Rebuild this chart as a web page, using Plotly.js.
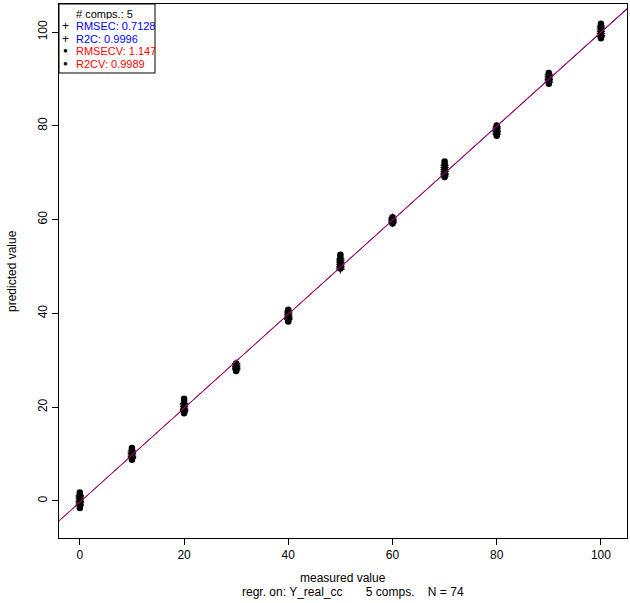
<!DOCTYPE html>
<html>
<head>
<meta charset="utf-8">
<script src="https://cdn.plot.ly/plotly-3.0.1.min.js"></script>
<style>html,body{margin:0;padding:0;background:#fff;}#chart{width:630px;height:603px;}</style>
</head>
<body>
<div id="chart"></div>
<script>
// measured values (74 samples)
const measured = [
  0,0,0,0,0,0,0,0,
  10,10,10,10,10,10,10,
  20,20,20,20,20,20,20,
  30,30,30,30,30,30,
  40,40,40,40,40,40,40,
  50,50,50,50,50,50,50,
  60,60,60,60,60,60,
  70,70,70,70,70,70,70,
  80,80,80,80,80,80,
  90,90,90,90,90,90,
  100,100,100,100,100,100,100
];
// calibration predictions (+)
const predCal = [
  1.2,0.9,0.6,0.2,-0.1,-0.4,-0.7,-1.0,
  10.7,10.4,10.1,9.8,9.5,9.3,9.1,
  20.8,20.5,20.2,19.8,19.5,19.3,19.1,
  29.3,29.0,28.7,28.4,28.2,28.0,
  40.5,40.1,39.7,39.4,39.1,38.9,38.7,
  51.6,51.2,50.8,50.4,50.0,49.7,49.4,
  60.4,60.1,59.9,59.7,59.5,59.3,
  71.6,71.1,70.7,70.3,69.9,69.6,69.3,
  79.8,79.5,79.1,78.8,78.5,78.2,
  91.0,90.6,90.2,89.9,89.6,89.3,
  101.3,100.9,100.5,100.1,99.7,99.3,99.0
];
// cross-validation predictions (dots)
const predCV = [
  1.8,1.3,0.8,0.3,-0.2,-0.6,-1.0,-1.5,
  11.3,10.9,10.3,9.8,9.4,9.1,8.8,
  21.8,21.3,20.1,19.5,19.1,18.9,18.7,
  29.3,28.9,28.5,28.2,27.9,27.7,
  40.8,40.3,39.8,39.3,38.9,38.6,38.3,
  52.5,52.0,51.4,50.9,50.4,50.0,49.6,
  60.5,60.2,59.9,59.6,59.4,59.2,
  72.4,71.8,71.2,70.6,70.0,69.5,69.1,
  80.1,79.7,79.2,78.7,78.3,77.9,
  91.3,90.8,90.3,89.8,89.4,89.0,
  101.8,101.3,100.8,100.2,99.6,99.1,98.7
];
const xTicks = [0,20,40,60,80,100];
const yTicks = [0,20,40,60,80,100];
const legendSymbols = ['', '+', '+', '\u25CF', '\u25CF'];
const legendTexts = ['# comps.: 5','RMSEC: 0.7128','R2C: 0.9996','RMSECV: 1.147','R2CV: 0.9989'];
const legendColors = ['black','blue','blue','red','red'];
const xTitle = 'measured value';
const subTitle = 'regr. on: Y_real_cc\u00A0\u00A0\u00A0\u00A0\u00A0\u00A0\u00A05 comps.\u00A0\u00A0\u00A0\u00A0N = 74';
const yTitle = 'predicted value';

function fit(x, y) {
  const n = x.length;
  let mx = 0, my = 0;
  for (let i = 0; i < n; i++) { mx += x[i]; my += y[i]; }
  mx /= n; my /= n;
  let sxy = 0, sxx = 0;
  for (let i = 0; i < n; i++) { sxy += (x[i]-mx)*(y[i]-my); sxx += (x[i]-mx)*(x[i]-mx); }
  const b = sxy / sxx;
  return {a: my - b*mx, b: b};
}
const fCal = fit(measured, predCal);
const fCV = fit(measured, predCV);
const lx = [-20, 130];

const font = 'Liberation Sans, Arial, Helvetica, sans-serif';

const traces = [
  {x: measured, y: predCal, type: 'scatter', mode: 'markers',
   marker: {symbol: 'cross-thin', size: 6, line: {width: 1, color: 'black'}, color: 'black'}},
  {x: measured, y: predCV, type: 'scatter', mode: 'markers',
   marker: {symbol: 'circle', size: 6.5, color: 'black'}},
  {x: lx, y: lx.map(v => fCal.a + fCal.b*v), type: 'scatter', mode: 'lines',
   line: {color: 'blue', width: 1}},
  {x: lx, y: lx.map(v => fCV.a + fCV.b*v), type: 'scatter', mode: 'lines',
   line: {color: 'rgb(220,0,40)', width: 1}}
];

const W = 630, H = 603, L = 59, R = 3, T = 4, B = 65;
const pw = W - L - R, ph = H - T - B;
const px = v => (v - L) / pw;
const py = v => 1 - (v - T) / ph;

const rowY = [13, 26, 38.5, 51, 63.5];
const annotations = [];
legendTexts.forEach((t, i) => {
  if (legendSymbols[i]) {
    annotations.push({xref: 'paper', yref: 'paper', x: px(65), y: py(rowY[i]),
      xanchor: 'center', yanchor: 'middle', text: legendSymbols[i], showarrow: false,
      height: 11, borderpad: 0,
      font: {family: font, size: legendSymbols[i] === '+' ? 12 : 8, color: 'black'}});
  }
  annotations.push({xref: 'paper', yref: 'paper', x: px(75), y: py(rowY[i]),
    xanchor: 'left', yanchor: 'middle', text: t, showarrow: false,
    height: 11, borderpad: 0,
    font: {family: font, size: 11, color: legendColors[i]}});
});
annotations.push(
  {xref: 'paper', yref: 'paper', x: 0.5, y: py(578), xanchor: 'center', yanchor: 'middle',
   text: xTitle, showarrow: false, font: {family: font, size: 12, color: 'black'}},
  {xref: 'paper', yref: 'paper', x: px(353), y: py(592), xanchor: 'center', yanchor: 'middle',
   text: subTitle, showarrow: false, font: {family: font, size: 12, color: 'black'}},
  {xref: 'paper', yref: 'paper', x: px(12), y: 0.5, xanchor: 'center', yanchor: 'middle',
   text: yTitle, textangle: -90, showarrow: false, font: {family: font, size: 12, color: 'black'}}
);

const shapes = [
  {type: 'rect', xref: 'paper', yref: 'paper', x0: 0, x1: px(155), y0: py(73), y1: 1,
   line: {color: 'black', width: 1}, fillcolor: 'rgba(255,255,255,0)', layer: 'above'}
];

const layout = {
  width: W, height: H,
  margin: {l: L, r: R, t: T, b: B, pad: 0},
  paper_bgcolor: 'white', plot_bgcolor: 'white',
  showlegend: false,
  font: {family: font, size: 12, color: 'black'},
  xaxis: {range: [-4, 105], tickvals: xTicks, ticktext: xTicks.map(String),
    showgrid: false, zeroline: false, showline: true, mirror: true,
    linecolor: 'black', linewidth: 1, ticks: 'outside', ticklen: 6, tickcolor: 'black',
    tickfont: {family: font, size: 12, color: 'black'}},
  yaxis: {range: [-7.9, 106], tickvals: yTicks, ticktext: yTicks.map(String),
    showgrid: false, zeroline: false, showline: true, mirror: true,
    linecolor: 'black', linewidth: 1, ticks: 'outside', ticklen: 6, tickcolor: 'black',
    tickangle: -90, tickfont: {family: font, size: 12, color: 'black'}},
  annotations: annotations,
  shapes: shapes
};

Plotly.newPlot('chart', traces, layout, {displayModeBar: false, staticPlot: true});
</script>
</body>
</html>
